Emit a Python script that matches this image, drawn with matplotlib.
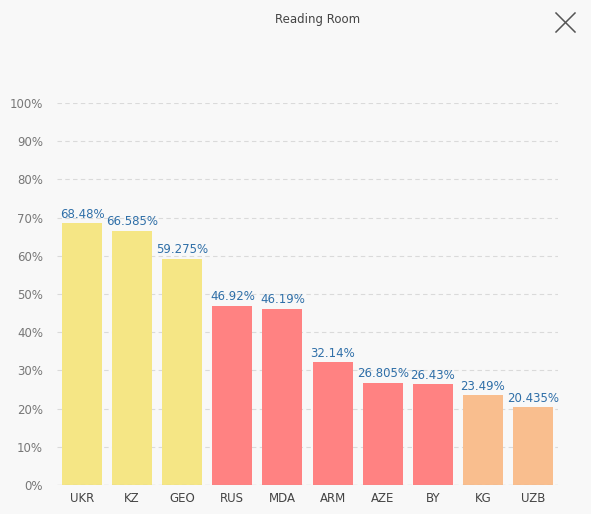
import matplotlib.pyplot as plt
import numpy as np

countries = ['UKR', 'KZ', 'GEO', 'RUS', 'MDA', 'ARM', 'AZE', 'BY', 'KG', 'UZB']
values = [68.48, 66.585, 59.275, 46.92, 46.19, 32.14, 26.805, 26.43, 23.49, 20.435]
labels = ['68.48%', '66.585%', '59.275%', '46.92%', '46.19%', '32.14%', '26.805%', '26.43%', '23.49%', '20.435%']
colors = ['#f5e685'] * 3 + ['#ff8282'] * 5 + ['#f9be8e'] * 2
yticks = list(range(0, 101, 10))

W, H = 591, 514
fig = plt.figure(figsize=(W / 100, H / 100), dpi=100)
fig.patch.set_facecolor('#f8f8f8')

ax = fig.add_axes([57 / W, 29 / H, 501 / W, 382 / H])
ax.set_facecolor('#f8f8f8')

x = np.arange(len(countries))
ax.bar(x, values, width=0.8, color=colors, zorder=2)
for xi, v, lab in zip(x, values, labels):
    ax.text(xi, v + 0.6, lab, ha='center', va='bottom', fontsize=8.5, color='#2f6fa8',
            family='DejaVu Sans', zorder=3)

ax.set_xlim(-0.5, len(countries) - 0.5)
ax.set_ylim(0, 100)
ax.set_yticks(yticks)
ax.set_yticklabels([f'{t}%' for t in yticks], fontsize=8.5, color='#777777')
ax.set_xticks(x)
ax.set_xticklabels(countries, fontsize=8.5, color='#444444')
ax.tick_params(axis='both', length=0)
ax.tick_params(axis='y', pad=10)
ax.tick_params(axis='x', pad=5)
ax.grid(axis='y', color='#dadada', linestyle=(0, (4, 3)), linewidth=0.8, zorder=0)
for s in ax.spines.values():
    s.set_visible(False)
ax.axhline(0, color='#aaaaaa', linestyle=(0, (4, 3)), linewidth=0.8, zorder=3)

fig.text(318 / W, 1 - 20 / H, 'Reading Room', ha='center', va='center', fontsize=8.5, color='#444444')

# close icon
fig.add_artist(plt.Line2D([556 / W, 575 / W], [1 - 13 / H, 1 - 32 / H], color='#555555', lw=1.1))
fig.add_artist(plt.Line2D([556 / W, 575 / W], [1 - 32 / H, 1 - 13 / H], color='#555555', lw=1.1))

fig.savefig('out.png', dpi=100, facecolor=fig.get_facecolor())
